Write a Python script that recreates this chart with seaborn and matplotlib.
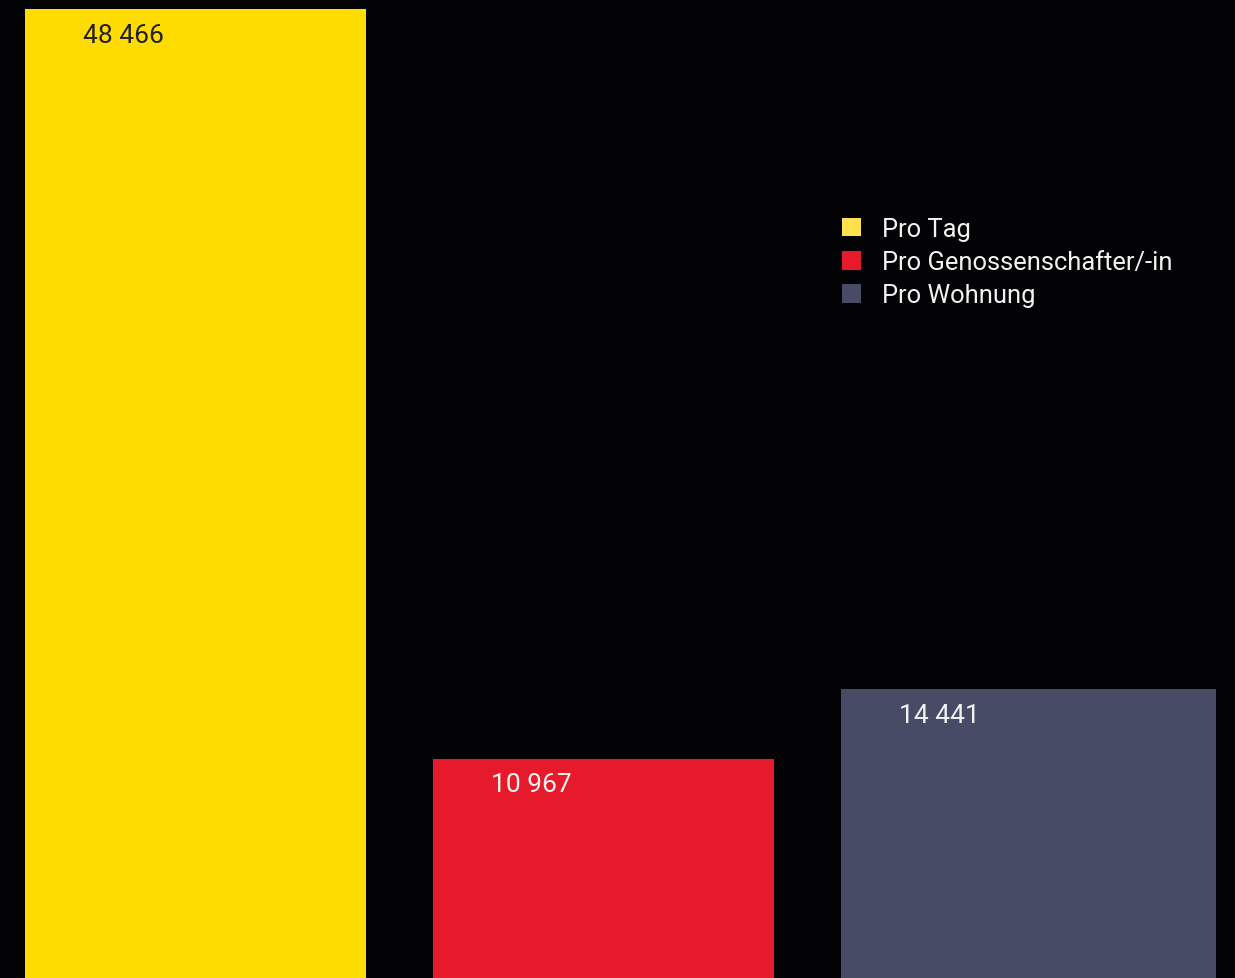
import matplotlib
matplotlib.use("Agg")
from matplotlib import pyplot as plt
from matplotlib.patches import Patch
import seaborn as sns
import pandas as pd

categories = ["Pro Tag", "Pro Genossenschafter/-in", "Pro Wohnung"]
values = [48466, 10967, 14441]
value_labels = ["48 466", "10 967", "14 441"]
bar_colors = ["#FFDC00", "#E61A2B", "#474B66"]
legend_colors = ["#FFE14D", "#E61A2B", "#474B66"]
label_colors = ["#231F20", "#F2F2F2", "#F2F2F2"]

bg = "#030306"

sns.set_theme(style="white")
plt.rcParams["font.family"] = ["Roboto", "DejaVu Sans"]

df = pd.DataFrame({"cat": categories, "value": values})

fig = plt.figure(figsize=(12.35, 9.79), dpi=100, facecolor=bg)
ax = fig.add_axes([0, 0, 1, 1])
ax.set_facecolor(bg)

sns.barplot(data=df, x="cat", y="value", hue="cat", palette=bar_colors,
            order=categories, hue_order=categories, width=0.836,
            saturation=1, legend=False, linewidth=0, edgecolor="none", ax=ax)

# last bar is a bit wider in the original, left edge stays put
bars = ax.patches
bars[2].set_width(bars[2].get_width() * 375 / 341)

ax.set_xlim(-0.479, 2.548)
ax.set_ylim(0, 48466 * 979 / 969)
ax.set_axis_off()

for bar, txt, col in zip(bars, value_labels, label_colors):
    ax.annotate(txt, (bar.get_x() + 0.242, bar.get_height()),
                xytext=(0, -18.5), textcoords="offset points",
                ha="center", va="center", fontsize=19, color=col)

handles = [Patch(facecolor=c, edgecolor="none") for c in legend_colors]
fig.legend(handles, categories, loc="upper left",
           bbox_to_anchor=(842 / 1235, 1 - 218 / 979), frameon=False,
           fontsize=18.4, labelcolor="#F2F2F2", handlelength=0.74,
           handleheight=0.74, handletextpad=0.84, labelspacing=0.36,
           borderpad=0, borderaxespad=0)

fig.savefig("out.png", dpi=100, facecolor=bg)
